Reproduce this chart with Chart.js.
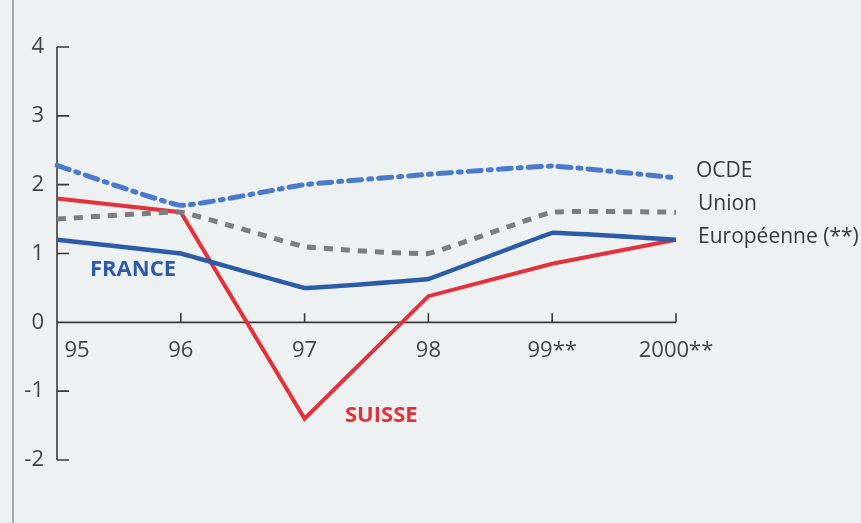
<!DOCTYPE html>
<html>
<head>
<meta charset="utf-8">
<script src="https://cdn.jsdelivr.net/npm/chart.js@4"></script>
<style>
  html, body { margin: 0; padding: 0; background: #eef1f1; }
  #wrap { position: relative; width: 861px; height: 523px; }
</style>
</head>
<body>
<div id="wrap"><canvas id="chart" width="861" height="523"></canvas></div>
<script>
// years on the x axis
const years = ['95', '96', '97', '98', '99**', '2000**'];
const yTicks = [4, 3, 2, 1, 0, -1, -2];

// growth series
const ocde = [2.28, 1.7, 2.0, 2.15, 2.27, 2.1];
const unionEuro = [1.5, 1.6, 1.1, 1.0, 1.6, 1.6];
const france = [1.2, 1.0, 0.5, 0.63, 1.3, 1.2];
const suisse = [1.8, 1.6, -1.4, 0.38, 0.85, 1.2];

const FONT = "'Open Sans', 'Noto Sans', sans-serif";
const AXIS = '#3a3a3a';

// hand-drawn axes, tick labels and series names
const decorations = {
    id: 'decorations',
    beforeDraw(chart) {
        const ctx = chart.ctx;
        ctx.save();
        ctx.fillStyle = '#eef1f1';
        ctx.fillRect(0, 0, chart.width, chart.height);
        ctx.strokeStyle = '#8a8f92';
        ctx.lineWidth = 1.5;
        ctx.beginPath();
        ctx.moveTo(13, 0);
        ctx.lineTo(13, chart.height);
        ctx.stroke();

        const x = chart.scales.x, y = chart.scales.y;
        const left = x.getPixelForValue(0);
        const right = x.getPixelForValue(years.length - 1);
        const zero = y.getPixelForValue(0);
        ctx.strokeStyle = AXIS;
        ctx.lineWidth = 1.6;
        // y axis with inward ticks
        ctx.beginPath();
        ctx.moveTo(left, y.getPixelForValue(4));
        ctx.lineTo(left, y.getPixelForValue(-2));
        yTicks.forEach(v => {
            const py = y.getPixelForValue(v);
            ctx.moveTo(left, py);
            ctx.lineTo(left + 12, py);
        });
        // zero line with upward ticks
        ctx.moveTo(left, zero);
        ctx.lineTo(right, zero);
        years.forEach((_, i) => {
            if (i === 0) return;
            const px = x.getPixelForValue(i);
            ctx.moveTo(px, zero);
            ctx.lineTo(px, zero - 9);
        });
        ctx.stroke();

        ctx.fillStyle = '#444';
        ctx.font = '22px ' + FONT;
        ctx.textAlign = 'right';
        ctx.textBaseline = 'middle';
        yTicks.forEach(v => {
            ctx.fillText(String(v), 44, y.getPixelForValue(v));
        });
        ctx.textAlign = 'center';
        years.forEach((lab, i) => {
            let px = x.getPixelForValue(i);
            if (i === 0) px += 20;
            ctx.fillText(lab, px, zero + 28);
        });
        ctx.restore();
    },
    afterDatasetsDraw(chart) {
        const ctx = chart.ctx;
        const x = chart.scales.x, y = chart.scales.y;
        ctx.save();
        ctx.textBaseline = 'middle';
        ctx.textAlign = 'left';
        ctx.font = 'bold 22px ' + FONT;
        ctx.fillStyle = '#2d5ca6';
        ctx.fillText('FRANCE', 90, y.getPixelForValue(0.76));
        ctx.fillStyle = '#e2323b';
        ctx.fillText('SUISSE', 345, y.getPixelForValue(-1.35));
        ctx.font = '21px ' + FONT;
        ctx.fillStyle = '#3a3a3a';
        const lx = x.getPixelForValue(years.length - 1) + 22;
        ctx.fillText('OCDE', lx - 2, y.getPixelForValue(2.2));
        ctx.fillText('Union', lx, y.getPixelForValue(1.72));
        ctx.fillText('Européenne (**)', lx, y.getPixelForValue(1.24));
        ctx.restore();
    }
};

new Chart(document.getElementById('chart'), {
    type: 'line',
    data: {
        labels: years,
        datasets: [
            {
                label: 'Union Européenne (**)',
                data: unionEuro,
                borderColor: '#7b7d7f',
                borderWidth: 5,
                borderDash: [9, 8],
                pointRadius: 0,
                tension: 0.08
            },
            {
                label: 'OCDE',
                data: ocde,
                borderColor: '#4a7acb',
                borderWidth: 5,
                borderDash: [13, 7, 3, 7],
                borderCapStyle: 'round',
                pointRadius: 0,
                tension: 0.1
            },
            {
                label: 'FRANCE',
                data: france,
                borderColor: '#2d5ca6',
                borderWidth: 4.5,
                pointRadius: 0,
                tension: 0.03
            },
            {
                label: 'SUISSE',
                data: suisse,
                borderColor: '#e2323b',
                borderWidth: 4,
                pointRadius: 0,
                tension: 0
            }
        ]
    },
    options: {
        responsive: false,
        animation: false,
        layout: { padding: { left: 57, right: 185, top: 47, bottom: 63 } },
        plugins: { legend: { display: false }, tooltip: { enabled: false } },
        scales: {
            x: { display: false, offset: false },
            y: { display: false, min: -2, max: 4 }
        }
    },
    plugins: [decorations]
});
</script>
</body>
</html>
